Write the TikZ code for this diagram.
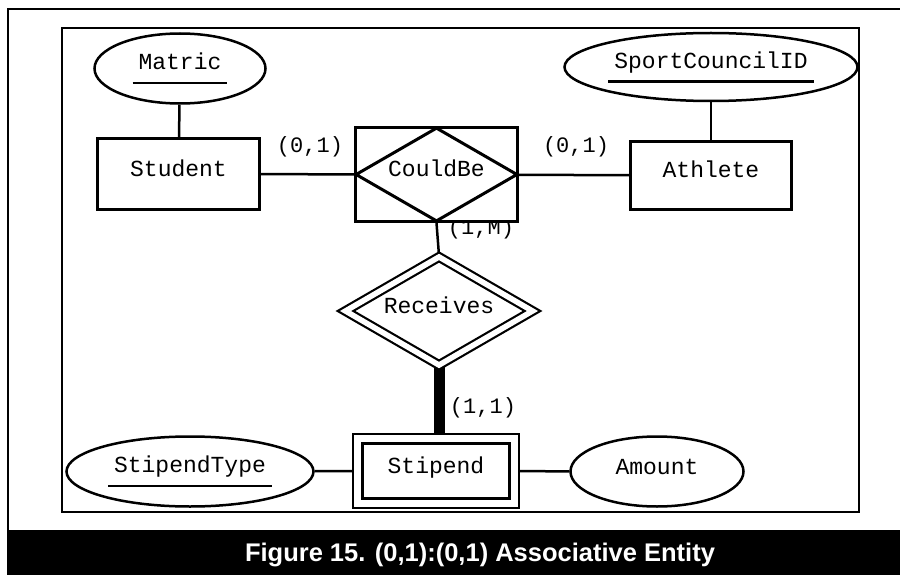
\documentclass[tikz,border=0pt]{standalone}
\usepackage{fontspec}
\setmainfont{Liberation Sans}
\setsansfont{Liberation Sans}
\setmonofont{Liberation Mono}
\usepackage{tikz}
\usetikzlibrary{shapes,positioning}

\pgfdeclarelayer{background}
\pgfsetlayers{background,main}

% key attribute: text with a rule below it
\newcommand{\keyname}[1]{\setbox0\hbox{\rule[-5pt]{0pt}{16pt}#1}%
  \vbox{\hbox to \dimexpr\wd0+12pt\relax{\hss\box0\hss}\kern7pt\hrule height 2.5pt}}

\begin{document}
\begin{tikzpicture}[
        x=1pt, y=-1pt,
        every node/.style={font=\ttfamily\fontsize{23}{26}\selectfont, inner sep=0pt},
        every path/.style={line width=2.5pt},
        entity/.style={draw, rectangle, line width=3pt, fill=white, text height=14pt, text depth=10pt},
        weakentity/.style={entity, double, double distance=7pt, line width=2.5pt},
        attr/.style={draw, ellipse, line width=2.5pt, fill=white, text height=14pt, text depth=8pt},
        keyattr/.style={draw, ellipse, line width=2.5pt, fill=white},
        rel/.style={draw, diamond, line width=3pt, aspect=1.7, text height=14pt, text depth=10pt},
        weakrel/.style={rel, fill=white, double, double distance=5.5pt, line width=2.2pt},
        card/.style={font=\ttfamily\fontsize{22}{24}\selectfont}
    ]
    \useasboundingbox (0,0) rectangle (900,575);

    % Frames
    \draw[line width=2pt] (8,9) rectangle (904,578);
    \draw[line width=2pt] (62,28) rectangle (859,512);

    % Labels
    \node[card] (cardm) at (481,229) {(1,M)};

    % Nodes
    \node[entity, minimum width=162pt, minimum height=71pt] (student) at (178.5,174) {Student};
    \node[entity, minimum width=161pt, minimum height=68pt] (athlete) at (711,175.5) {Athlete};
    \node[draw, rectangle, line width=3pt, fill=white, minimum width=162pt, minimum height=94pt] (couldbebox) at (436.5,174.5) {};
    \node[rel, minimum width=162pt, minimum height=94pt] (couldbe) at (436.5,174.5) {CouldBe};
    \node[weakrel, minimum width=188pt, minimum height=109pt] (receives) at (439,311) {Receives};
    \node[weakentity, minimum width=156.5pt, minimum height=64.5pt] (stipend) at (436,471) {Stipend};

    \node[keyattr, minimum width=171pt, minimum height=70pt] (matric) at (180,68.5) {\keyname{Matric}};
    \node[keyattr, minimum width=293pt, minimum height=68pt] (sportid) at (711,67) {\keyname{SportCouncilID}};
    \node[keyattr, minimum width=247pt, minimum height=70pt] (stipendtype) at (190,471.5) {\keyname{StipendType}};
    \node[attr, minimum width=173pt, minimum height=70pt] (amount) at (657,471.5) {Amount};

    \node[card] (carda) at (310,147) {(0,1)};
    \node[card] (cardb) at (576,147) {(0,1)};
    \node[card] (cardc) at (483,408) {(1,1)};

    % Connectors
    \begin{pgfonlayer}{background}
        \draw (matric) -- (student);
        \draw (sportid) -- (athlete);
        \draw (student) -- (couldbe);
        \draw (couldbe) -- (athlete);
        \draw (couldbe.south) -- (receives.north);
        \draw[line width=11pt] (receives.south) -- (receives.south |- stipend.north);
        \draw (stipendtype) -- (stipend);
        \draw (stipend) -- (amount);
    \end{pgfonlayer}

    % Caption
    \fill[black] (8,530) rectangle (904,578);
    \node[font=\sffamily\bfseries\fontsize{25.5}{28}\selectfont, text=white] (caption) at (480,555) {Figure 15. (0,1):(0,1) Associative Entity};
\end{tikzpicture}
\end{document}
